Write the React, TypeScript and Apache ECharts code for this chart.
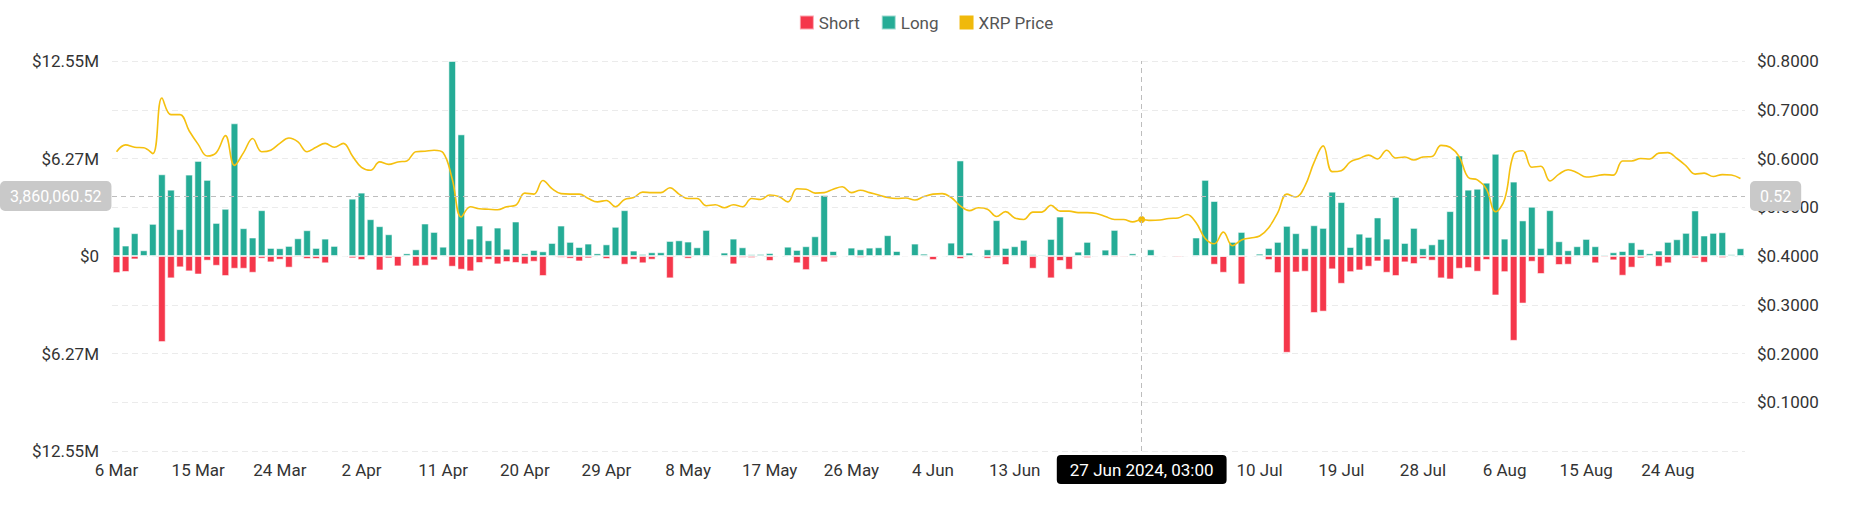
import * as echarts from "echarts";
import { useEffect, useRef } from "react";

const FONT = "Roboto, 'Noto Sans', sans-serif";
const MONTHS = ["Jan", "Feb", "Mar", "Apr", "May", "Jun", "Jul", "Aug", "Sep", "Oct", "Nov", "Dec"];

// first day of the series (6 Mar 2024), one bar per day
const startDate = [2024, 2, 6];

// liquidations in USD millions
const longs = [
  1.88, 0.67, 1.47, 0.37, 2.07, 5.26, 4.27, 1.73, 5.24, 6.12,
  4.9, 2.13, 3.04, 8.54, 1.79, 1.19, 2.95, 0.52, 0.5, 0.65,
  1.14, 1.66, 0.52, 1.12, 0.65, 0.06, 3.69, 4.08, 2.37, 1.92,
  1.4, 0.04, 0.17, 0.43, 2.09, 1.55, 0.6, 12.55, 7.83, 1.12,
  1.96, 1.01, 1.83, 0.47, 2.22, 0.17, 0.39, 0.3, 0.84, 1.96,
  0.91, 0.58, 0.8, 0.17, 0.75, 1.88, 2.95, 0.35, 0.13, 0.24,
  0.24, 0.97, 1.01, 0.93, 0.56, 1.68, 0.02, 0.22, 1.12, 0.56,
  0.11, 0.13, 0.19, 0.04, 0.6, 0.39, 0.63, 1.27, 3.92, 0.32,
  0.06, 0.54, 0.43, 0.54, 0.56, 1.34, 0.32, 0.04, 0.8, 0.15,
  0.02, 0.02, 0.86, 6.15, 0.22, 0.02, 0.43, 2.31, 0.52, 0.63,
  1.04, 0.11, 0.09, 1.1, 2.54, 0.04, 0.28, 0.91, 0.04, 0.41,
  1.68, 0.01, 0.17, 0.01, 0.43, 0.04, 0.04, 0.06, 0.06, 1.19,
  4.9, 3.54, 0.0, 0.91, 1.55, 0.0, 0.15, 0.52, 0.91, 1.94,
  1.47, 0.5, 1.98, 1.81, 4.14, 3.47, 0.58, 1.44, 1.23, 2.48,
  1.12, 3.8, 0.84, 1.81, 0.5, 0.75, 1.1, 2.89, 6.47, 4.27,
  4.33, 4.72, 6.58, 1.12, 4.79, 2.29, 3.17, 0.52, 2.95, 0.95,
  0.37, 0.63, 1.1, 0.63, 0.09, 0.24, 0.32, 0.88, 0.45, 0.17,
  0.35, 0.91, 1.08, 1.49, 2.93, 1.32, 1.49, 1.53, 0.11, 0.5,
];

const shorts = [
  1.1, 1.03, 0.22, 0.06, 0.02, 5.54, 1.44, 0.73, 0.99, 1.19,
  0.3, 0.63, 1.29, 0.82, 0.82, 1.08, 0.17, 0.41, 0.24, 0.75,
  0.09, 0.19, 0.19, 0.47, 0.03, 0.01, 0.15, 0.26, 0.06, 0.93,
  0.15, 0.67, 0.04, 0.67, 0.63, 0.28, 0.02, 0.69, 0.88, 0.99,
  0.45, 0.24, 0.54, 0.39, 0.45, 0.54, 0.37, 1.29, 0.06, 0.11,
  0.17, 0.35, 0.15, 0.02, 0.19, 0.06, 0.56, 0.24, 0.47, 0.24,
  0.02, 1.44, 0.04, 0.17, 0.06, 0.0, 0.04, 0.0, 0.54, 0.11,
  0.13, 0.04, 0.32, 0.0, 0.02, 0.47, 0.91, 0.09, 0.41, 0.11,
  0.04, 0.02, 0.11, 0.04, 0.02, 0.04, 0.04, 0.01, 0.04, 0.02,
  0.26, 0.02, 0.0, 0.19, 0.01, 0.02, 0.17, 0.09, 0.58, 0.01,
  0.06, 0.82, 0.06, 1.44, 0.32, 0.88, 0.06, 0.13, 0.0, 0.01,
  0.09, 0.09, 0.01, 0.06, 0.01, 0.0, 0.06, 0.09, 0.06, 0.0,
  0.06, 0.56, 1.08, 0.06, 1.83, 0.02, 0.04, 0.26, 1.1, 6.23,
  1.06, 1.01, 3.67, 3.58, 0.86, 1.79, 1.04, 0.93, 0.69, 0.35,
  1.08, 1.29, 0.41, 0.52, 0.19, 0.3, 1.44, 1.51, 0.82, 0.78,
  1.01, 0.26, 2.54, 1.04, 5.46, 3.06, 0.37, 1.16, 0.06, 0.58,
  0.56, 0.04, 0.02, 0.47, 0.09, 0.28, 1.27, 0.75, 0.15, 0.01,
  0.69, 0.47, 0.04, 0.06, 0.15, 0.43, 0.04, 0.13, 0.04, 0.0,
];

// XRP price in USD
const prices = [
  0.614, 0.628, 0.623, 0.622, 0.61, 0.724, 0.69, 0.69, 0.657, 0.629,
  0.605, 0.612, 0.647, 0.586, 0.612, 0.641, 0.614, 0.617, 0.631, 0.642,
  0.634, 0.614, 0.623, 0.631, 0.623, 0.631, 0.605, 0.582, 0.576, 0.593,
  0.588, 0.593, 0.595, 0.614, 0.615, 0.617, 0.612, 0.558, 0.48, 0.501,
  0.497, 0.496, 0.495, 0.501, 0.504, 0.529, 0.527, 0.555, 0.538, 0.528,
  0.527, 0.527, 0.518, 0.511, 0.514, 0.501, 0.516, 0.52, 0.531, 0.53,
  0.53, 0.54, 0.527, 0.518, 0.518, 0.503, 0.505, 0.499, 0.505, 0.501,
  0.518, 0.516, 0.525, 0.522, 0.511, 0.538, 0.537, 0.529, 0.53, 0.537,
  0.542, 0.53, 0.535, 0.53, 0.525, 0.52, 0.518, 0.519, 0.515, 0.522,
  0.527, 0.528, 0.52, 0.503, 0.493, 0.499, 0.496, 0.481, 0.491, 0.478,
  0.475, 0.49, 0.49, 0.504, 0.492, 0.492, 0.489, 0.489, 0.487, 0.481,
  0.475, 0.475, 0.47, 0.475, 0.473, 0.474, 0.477, 0.478, 0.485, 0.468,
  0.436, 0.425, 0.449, 0.421, 0.433, 0.437, 0.441, 0.458, 0.489, 0.527,
  0.521, 0.544, 0.592, 0.626, 0.573, 0.575, 0.593, 0.6, 0.607, 0.599,
  0.617, 0.601, 0.603, 0.597, 0.603, 0.604, 0.627, 0.623, 0.604, 0.561,
  0.556, 0.537, 0.491, 0.516, 0.609, 0.616, 0.582, 0.584, 0.554, 0.568,
  0.577, 0.571, 0.562, 0.564, 0.567, 0.566, 0.595, 0.595, 0.6, 0.599,
  0.611, 0.612, 0.6, 0.585, 0.568, 0.57, 0.563, 0.567, 0.566, 0.559,
];

// axis extents / ticks
const leftMax = 12.55e6;
const leftTicks = [-12.55e6, -6.275e6, 0, 6.275e6, 12.55e6];
const rightTicks = [0, 0.1, 0.2, 0.3, 0.4, 0.5, 0.6, 0.7, 0.8];
const labelEvery = 9; // one date label every 9 days

// hovered position shown in the picture
const pointerIndex = 113;
const pointerTime = "03:00";
const pointerValue = 3860060.52;

const categories = longs.map((_, i) => {
  const d = new Date(Date.UTC(startDate[0], startDate[1], startDate[2] + i));
  return d.toISOString().slice(0, 10);
});

function shortDate(iso: string) {
  const [, m, d] = iso.split("-").map(Number);
  return `${d} ${MONTHS[m - 1]}`;
}

export default function App() {
  const chartRef = useRef<HTMLDivElement | null>(null);

  useEffect(() => {
    document.body.style.margin = "0";
    const el = chartRef.current;
    if (!el) return;
    const chart = echarts.init(el, undefined, { renderer: "svg" });

    const rightMin = rightTicks[0];
    const rightMax = rightTicks[rightTicks.length - 1];
    // the same screen height on the price axis
    const pointerPrice =
      rightMin + ((pointerValue + leftMax) / (2 * leftMax)) * (rightMax - rightMin);

    const pointerLine = { color: "#bdbdbd", width: 1, type: [5, 4] as number[] };

    const option: echarts.EChartsOption = {
      animation: false,
      textStyle: { fontFamily: FONT },
      legend: {
        top: 9,
        left: "center",
        icon: "rect",
        itemWidth: 14,
        itemHeight: 14,
        itemGap: 21,
        textStyle: { fontSize: 17, color: "#555", fontFamily: FONT },
        data: ["Short", "Long", "XRP Price"],
      },
      grid: { left: 112, right: 107, top: 61, bottom: 74 },
      xAxis: {
        type: "category",
        data: categories,
        axisLine: { show: false },
        axisTick: { show: false },
        splitLine: { show: false },
        axisLabel: {
          // labels under the pointer's date box are covered in the original
          interval: (i: number) =>
            i % labelEvery === 0 && Math.abs(i - pointerIndex) >= labelEvery,
          margin: 10,
          fontSize: 17,
          color: "#333",
          fontFamily: FONT,
          formatter: (v: string) => shortDate(v),
        },
        axisPointer: {
          show: true,
          status: "show",
          value: pointerIndex,
          type: "line",
          snap: true,
          triggerTooltip: false,
          lineStyle: pointerLine,
          label: {
            show: true,
            backgroundColor: "#000",
            color: "#fff",
            fontSize: 17,
            fontFamily: FONT,
            padding: [6, 13],
            borderRadius: 4,
            margin: 4,
            formatter: () => {
              const iso = categories[pointerIndex];
              return `${shortDate(iso)} ${iso.slice(0, 4)}, ${pointerTime}`;
            },
          },
        },
      },
      yAxis: [
        {
          type: "value",
          position: "left",
          min: leftTicks[0],
          max: leftTicks[leftTicks.length - 1],
          interval: leftTicks[1] - leftTicks[0],
          axisLine: { show: false },
          axisTick: { show: false },
          splitLine: { show: false },
          axisLabel: {
            margin: 13,
            fontSize: 17,
            color: "#333",
            fontFamily: FONT,
            formatter: (v: number) => {
              if (v === 0) return "$0";
              const m = Math.floor(Math.abs(v) / 1e4 + 1e-6) / 100;
              return `$${m.toFixed(2)}M`;
            },
          },
          axisPointer: {
            show: true,
            status: "show",
            value: pointerValue,
            type: "line",
            triggerTooltip: false,
            lineStyle: pointerLine,
            label: {
              show: true,
              backgroundColor: "#c9c9c9",
              color: "#fff",
              fontSize: 16,
              fontFamily: FONT,
              padding: [7, 10],
              borderRadius: 5,
              formatter: () =>
                pointerValue.toLocaleString("en-US", {
                  minimumFractionDigits: 2,
                  maximumFractionDigits: 2,
                }),
            },
          },
        },
        {
          type: "value",
          position: "right",
          min: rightMin,
          max: rightMax,
          interval: rightTicks[1] - rightTicks[0],
          axisLine: { show: false },
          axisTick: { show: false },
          splitLine: {
            show: true,
            lineStyle: { color: "#ebebeb", width: 1, type: [6, 4] },
          },
          axisLabel: {
            margin: 12,
            fontSize: 17,
            color: "#333",
            fontFamily: FONT,
            formatter: (v: number) => (v === 0 ? "" : `$${v.toFixed(4)}`),
          },
          axisPointer: {
            show: true,
            status: "show",
            value: pointerPrice,
            type: "line",
            triggerTooltip: false,
            lineStyle: pointerLine,
            label: {
              show: true,
              backgroundColor: "#c9c9c9",
              color: "#fff",
              fontSize: 16,
              fontFamily: FONT,
              padding: [7, 10],
              borderRadius: 5,
              margin: 5,
              formatter: () => pointerPrice.toFixed(2),
            },
          },
        },
      ],
      series: [
        {
          name: "Short",
          type: "bar",
          yAxisIndex: 0,
          barGap: "-100%",
          barCategoryGap: "16%",
          data: shorts.map((v) => -v * 1e6),
          itemStyle: {
            color: "#f5374b",
            borderColor: "rgba(255,255,255,0.55)",
            borderWidth: 1,
          },
        },
        {
          name: "Long",
          type: "bar",
          yAxisIndex: 0,
          barGap: "-100%",
          barCategoryGap: "16%",
          data: longs.map((v) => v * 1e6),
          itemStyle: {
            color: "#25ac96",
            borderColor: "rgba(255,255,255,0.55)",
            borderWidth: 1,
          },
        },
        {
          name: "XRP Price",
          type: "line",
          yAxisIndex: 1,
          data: prices,
          smooth: 0.4,
          showSymbol: false,
          z: 5,
          lineStyle: { color: "#f5c00f", width: 1.6 },
          itemStyle: { color: "#f0b90b" },
          markPoint: {
            symbol: "circle",
            symbolSize: 7,
            label: { show: false },
            itemStyle: { color: "#f0b90b" },
            data: [{ coord: [pointerIndex, prices[pointerIndex]] }],
          },
        },
      ],
    };

    chart.setOption(option);

    return () => {
      if (!chart.isDisposed()) chart.dispose();
    };
  }, []);

  return <div ref={chartRef} style={{ width: 1852, height: 525 }} />;
}
